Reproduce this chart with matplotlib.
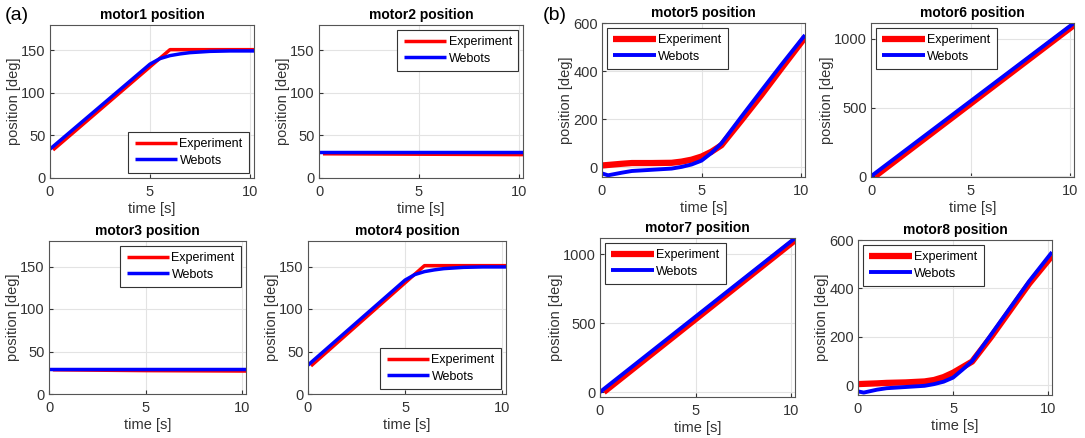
import numpy as np
import matplotlib
matplotlib.use("Agg")
import matplotlib.pyplot as plt

plt.rcParams['font.family'] = ['Liberation Sans', 'DejaVu Sans']

# dados (tempo em s, posição em graus)
t_ramp_exp = [0.15, 6.0, 10.2]
motor1_exp = [33, 151, 151]
t_ramp_web = [0.0, 1.0, 2.0, 3.0, 4.0, 5.0, 5.5, 6.0, 6.5, 7.0, 8.0, 9.0, 10.2]
motor1_web = [34, 54, 74, 94, 114, 134, 140.5, 144, 146, 147.5, 149, 149.5, 149.5]

t_flat = [0.2, 5.0, 10.2]
motor2_exp = [28.5, 28, 27.5]
motor2_web = [30, 30, 30]
motor3_exp = [28.5, 27.5, 27]
motor3_web = [30, 30, 30]

motor4_exp = [33, 151, 151]
motor4_web = [34, 54, 74, 94, 114, 134, 140.5, 144, 146, 147.5, 149, 149.5, 149.5]

t_curve = [0.0, 0.3, 1.0, 1.5, 2.5, 3.5, 4.0, 4.5, 5.0, 5.5, 6.0, 7.0, 8.0, 9.0, 10.2]
motor5_exp = [8, 10, 15, 18, 18, 19, 24, 32, 45, 65, 92, 195, 300, 410, 540]
motor5_web = [-25, -33, -22, -15, -10, -5, 2, 12, 28, 60, 100, 210, 318, 425, 550]

t_lin = [0.2, 10.2]
motor6_exp = [0, 1100]
t_lin_web = [0.0, 10.2]
motor6_web = [0, 1115]
motor7_exp = [0, 1100]
motor7_web = [0, 1115]

motor8_exp = [5, 6, 8, 10, 12, 16, 22, 34, 52, 75, 98, 200, 310, 420, 535]
motor8_web = [-25, -30, -18, -12, -7, -2, 5, 15, 32, 65, 100, 210, 320, 430, 550]

fig = plt.figure(figsize=(10.85, 4.38), dpi=100)
W, H = 1085, 438

def eixo(x0, y0, x1, y1):
    return fig.add_axes([x0 / W, 1 - y1 / H, (x1 - x0) / W, (y1 - y0) / H])

def desenha(ax, titulo, tx, ye, tw, yw, ylim, yticks, loc, lw_exp, lw_web):
    ax.plot(tx, ye, color='#ff0000', lw=lw_exp, label='Experiment', solid_capstyle='butt')
    ax.plot(tw, yw, color='#0000ff', lw=lw_web, label='Webots', solid_capstyle='butt')
    ax.set_xlim(0, 10.2)
    ax.set_ylim(*ylim)
    ax.set_xticks([0, 5, 10])
    ax.set_yticks(yticks)
    ax.grid(True, color='#e3e3e3', lw=0.8)
    ax.set_axisbelow(True)
    ax.tick_params(direction='in', length=3, labelsize=10.5, colors='#333333')
    ax.tick_params(axis='x', pad=5)
    ax.tick_params(axis='y', pad=3)
    for s in ax.spines.values():
        s.set_color('#555555')
        s.set_linewidth(0.8)
    ax.set_title(titulo, fontsize=10, fontweight='bold', pad=4)
    ax.set_xlabel('time [s]', fontsize=10.5, color='#333333', labelpad=2)
    ax.set_ylabel('position [deg]', fontsize=10.5, color='#333333', labelpad=0)
    leg = ax.legend(loc=loc, fontsize=9, handlelength=3.4, fancybox=False,
                    framealpha=1, borderaxespad=0.4, labelspacing=0.35,
                    borderpad=0.5, handletextpad=0.2)
    leg.get_frame().set_edgecolor('#333333')
    leg.get_frame().set_linewidth(0.8)

ax1 = eixo(50, 25, 254, 178)
desenha(ax1, 'motor1 position', t_ramp_exp, motor1_exp, t_ramp_web, motor1_web,
        (0, 180), [0, 50, 100, 150], 'lower right', 2.5, 2.5)
ax2 = eixo(319, 25, 523, 178)
desenha(ax2, 'motor2 position', t_flat, motor2_exp, [0, 5, 10.2], motor2_web,
        (0, 180), [0, 50, 100, 150], 'upper right', 2.5, 2.5)
ax3 = eixo(49, 241, 246, 394)
desenha(ax3, 'motor3 position', t_flat, motor3_exp, [0, 5, 10.2], motor3_web,
        (0, 180), [0, 50, 100, 150], 'upper right', 2.5, 2.5)
ax4 = eixo(308, 241, 506, 394)
desenha(ax4, 'motor4 position', t_ramp_exp, motor4_exp, t_ramp_web, motor4_web,
        (0, 180), [0, 50, 100, 150], 'lower right', 2.5, 2.5)

ax5 = eixo(602, 23, 805, 177)
desenha(ax5, 'motor5 position', t_curve, motor5_exp, t_curve, motor5_web,
        (-40, 600), [0, 200, 400, 600], 'upper left', 4.5, 2.8)
ax6 = eixo(871, 23, 1074, 177)
desenha(ax6, 'motor6 position', t_lin, motor6_exp, t_lin_web, motor6_web,
        (-5, 1115), [0, 500, 1000], 'upper left', 4.5, 2.8)
ax7 = eixo(600, 238, 795, 397)
desenha(ax7, 'motor7 position', t_lin, motor7_exp, t_lin_web, motor7_web,
        (-36, 1116), [0, 500, 1000], 'upper left', 4.5, 2.8)
ax8 = eixo(858, 240, 1052, 395)
desenha(ax8, 'motor8 position', t_curve, motor8_exp, t_curve, motor8_web,
        (-40, 600), [0, 200, 400, 600], 'upper left', 4.5, 2.8)

fig.text(5 / W, 1 - 15 / H, '(a)', fontsize=14, va='center', ha='left')
fig.text(543 / W, 1 - 15 / H, '(b)', fontsize=14, va='center', ha='left')

fig.savefig('out.png', dpi=100)
